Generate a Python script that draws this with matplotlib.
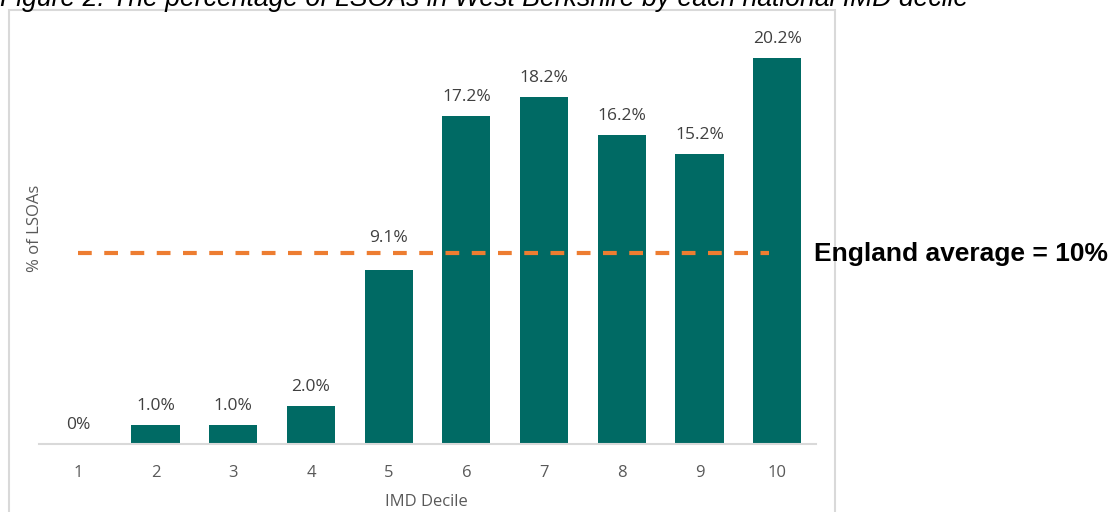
import matplotlib.pyplot as plt
from matplotlib.patches import Rectangle

deciles = [1, 2, 3, 4, 5, 6, 7, 8, 9, 10]
pct_lsoas = [0.0, 1.0, 1.0, 2.0, 9.1, 17.2, 18.2, 16.2, 15.2, 20.2]
bar_labels = ["0%", "1.0%", "1.0%", "2.0%", "9.1%", "17.2%", "18.2%", "16.2%", "15.2%", "20.2%"]
england_avg = 10.0

plt.rcParams['font.family'] = ['Open Sans', 'DejaVu Sans']

W, H = 1112, 512
fig = plt.figure(figsize=(W / 100, H / 100), dpi=100)

# chart frame (goes off the bottom of the picture)
fig.patches.append(Rectangle((9 / W, -0.1), (835 - 9) / W, (H - 10) / H + 0.1,
                             transform=fig.transFigure, fill=False,
                             edgecolor='#D9D9D9', linewidth=1.5))

ax = fig.add_axes([39 / W, (H - 444) / H, (816 - 39) / W, (444 - 24) / H])
ax.bar(deciles, pct_lsoas, width=0.62, color='#006A64')
ax.set_xlim(0.5, 10.5)
ax.set_ylim(0, 22)

for x, v, lab in zip(deciles, pct_lsoas, bar_labels):
    # the 9.1% label sits above the dashed line
    off = 32 if lab == "9.1%" else 19
    ax.annotate(lab, (x, v), xytext=(0, off), textcoords='offset pixels',
                ha='center', va='center', fontsize=12.5, color='#404040')

ax.plot([1, 9.9], [england_avg, england_avg], color='#ED7D31', linewidth=3,
        linestyle=(0, (3.3, 3)), solid_capstyle='butt')

for s in ['top', 'right', 'left']:
    ax.spines[s].set_visible(False)
ax.spines['bottom'].set_color('#D9D9D9')
ax.spines['bottom'].set_linewidth(1.5)
ax.set_yticks([])
ax.set_xticks(deciles)
ax.tick_params(axis='x', length=0, pad=15, labelsize=12, labelcolor='#595959')

fig.text(426 / W, (H - 502) / H, "IMD Decile", fontsize=12, color='#595959',
         ha='center', va='center')
fig.text(35 / W, (H - 228) / H, "% of LSOAs", fontsize=12, color='#595959',
         rotation=90, ha='center', va='center')

fig.text(814 / W, (H - 254) / H, "England average = 10%", fontsize=19,
         fontweight='bold', family='Liberation Sans', color='black',
         ha='left', va='center')

fig.text(0, (H - 6) / H, "Figure 2: The percentage of LSOAs in West Berkshire by each national IMD decile",
         fontsize=19.2, style='italic', family='Liberation Sans', color='black',
         ha='left', va='baseline')

fig.savefig("out.png", dpi=100)
